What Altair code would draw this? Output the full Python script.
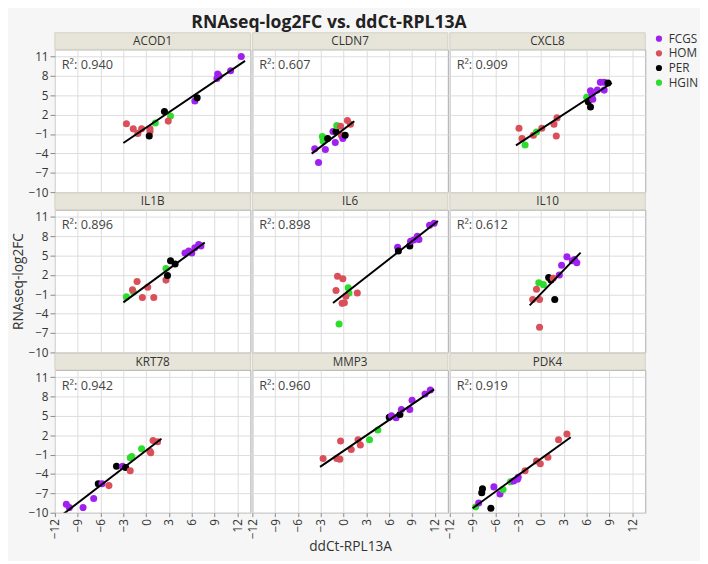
import altair as alt
import pandas as pd

GENES = ["ACOD1", "CLDN7", "CXCL8", "IL1B", "IL6", "IL10", "KRT78", "MMP3", "PDK4"]
R2 = ["0.940", "0.607", "0.909", "0.896", "0.898", "0.612", "0.942", "0.960", "0.919"]
GROUPS = ["FCGS", "HOM", "PER", "HGIN"]
COLORS = ["#A020F0", "#D9505A", "#000000", "#2EDC2E"]
X_TICKS = [-12, -9, -6, -3, 0, 3, 6, 9, 12]
Y_TICKS = [-10, -7, -4, -1, 2, 5, 8, 11]

F, H_, P, G = "FCGS", "HOM", "PER", "HGIN"

acod1_x = [-2.6, -1.7, -1.1, -0.6, 0.5, 0.5, 0.4, 1.2, 2.4, 3.2, 2.9, 6.4, 6.7, 9.3, 9.4, 9.6, 11.1, 12.5]
acod1_y = [0.6, -0.2, -0.9, -0.2, -0.2, -0.6, -1.3, 0.7, 2.5, 1.8, 1.0, 4.1, 4.6, 7.6, 8.3, 8.0, 8.8, 11.0]
acod1_g = [H_, H_, H_, H_, H_, H_, P, G, P, G, H_, F, P, F, F, F, F, F]

cldn7_x = [-3.8, -3.3, -2.4, -2.8, -2.7, -2.1, -1.4, -1.1, -1.0, -0.9, -0.4, -0.3, -0.1, 0.2, 0.5, 0.9]
cldn7_y = [-3.3, -5.4, -3.4, -1.4, -2.1, -1.7, -0.6, -2.3, -0.6, 0.3, 0.2, -1.2, -1.7, -1.2, 1.1, 0.5]
cldn7_g = [F, F, F, G, G, P, F, F, P, G, H_, H_, F, P, H_, H_]

cxcl8_x = [-2.9, -2.5, -2.1, -1.0, -0.6, 0.1, 1.7, 2.1, 2.0, 6.0, 6.2, 6.5, 6.5, 6.8, 6.7, 7.4, 7.8, 8.3, 8.3, 8.8]
cxcl8_y = [-0.1, -1.7, -2.7, -1.2, -0.7, -0.1, 0.5, 1.5, -1.3, 4.7, 4.0, 3.2, 5.7, 4.4, 5.1, 5.8, 7.0, 7.0, 5.8, 6.9]
cxcl8_g = [H_, H_, G, H_, G, H_, H_, H_, H_, G, P, P, F, F, F, F, F, F, F, P]

il1b_x = [-2.6, -1.7, -1.8, -1.2, -0.5, 0.2, 1.0, 2.6, 2.6, 2.8, 3.2, 3.8, 5.1, 5.6, 6.0, 6.4, 6.9, 7.2]
il1b_y = [-1.4, -0.6, -0.3, 1.0, -1.5, 0.1, -1.5, 3.0, 1.2, 1.9, 4.2, 3.7, 5.4, 5.7, 5.4, 6.2, 6.7, 6.5]
il1b_g = [G, G, H_, H_, H_, H_, H_, G, H_, P, P, P, F, F, F, F, F, F]

il6_x = [-0.8, -0.1, -1.0, 0.6, 0.7, 0.3, -0.2, 0.1, 1.8, -0.6, 7.1, 7.2, 8.7, 8.8, 9.2, 9.7, 9.9, 11.3, 11.9]
il6_y = [1.8, 1.4, -0.4, 0.0, -0.8, -1.3, -2.4, -2.3, -0.8, -5.6, 6.3, 5.7, 6.5, 7.2, 7.4, 8.0, 7.5, 9.7, 10.0]
il6_g = [H_, H_, H_, G, G, H_, H_, H_, H_, G, F, P, P, F, F, F, F, F, F]

il10_x = [-1.1, -0.2, -0.6, -0.3, 0.3, -0.2, 1.0, 1.3, 1.6, 1.8, 2.4, 2.7, 3.4, 4.1, 4.7, 4.4]
il10_y = [-1.8, -1.8, -0.2, 0.8, 0.5, -6.1, 1.6, 1.2, 1.5, -1.8, 2.0, 3.5, 4.8, 4.2, 3.9, 4.4]
il10_g = [H_, H_, H_, G, G, H_, P, P, H_, P, F, F, F, F, F, F]

krt78_x = [-10.5, -10.1, -8.3, -6.9, -6.3, -5.8, -4.9, -3.9, -3.1, -2.7, -2.1, -2.1, -1.9, -0.6, 0.6, 0.9, 1.5, 0.5]
krt78_y = [-8.7, -9.2, -9.2, -7.8, -5.5, -5.5, -5.8, -2.8, -2.8, -3.0, -3.5, -1.5, -1.3, -0.1, -0.7, 1.2, 1.0, -0.5]
krt78_g = [F, F, F, F, P, F, H_, P, F, P, H_, G, G, G, H_, H_, H_, H_]

mmp3_x = [-2.7, -0.9, -0.5, -0.4, 1.0, 1.9, 2.2, 3.4, 4.5, 6.0, 6.3, 6.9, 7.4, 7.6, 8.7, 9.0, 10.7, 11.4]
mmp3_y = [-1.6, -1.6, -1.7, 1.1, -0.2, 1.3, 0.5, 1.3, 2.8, 4.8, 5.0, 4.7, 5.2, 6.0, 6.0, 7.4, 8.4, 9.0]
mmp3_g = [H_, H_, H_, H_, H_, H_, H_, G, G, P, F, F, P, F, F, F, F, F]

pdk4_x = [-8.6, -8.2, -7.8, -7.7, -6.6, -6.2, -5.4, -5.0, -4.0, -3.6, -3.1, -3.0, -2.1, -0.6, -0.1, 0.9, 2.3, 3.4]
pdk4_y = [-9.1, -8.5, -6.9, -6.3, -9.3, -6.0, -7.1, -6.4, -5.2, -5.1, -4.8, -4.5, -3.5, -2.0, -2.4, -1.4, 1.3, 2.2]
pdk4_g = [G, F, P, P, P, F, F, G, G, F, F, F, H_, H_, H_, H_, H_, H_]

PANEL_DATA = {
    "ACOD1": (acod1_x, acod1_y, acod1_g),
    "CLDN7": (cldn7_x, cldn7_y, cldn7_g),
    "CXCL8": (cxcl8_x, cxcl8_y, cxcl8_g),
    "IL1B": (il1b_x, il1b_y, il1b_g),
    "IL6": (il6_x, il6_y, il6_g),
    "IL10": (il10_x, il10_y, il10_g),
    "KRT78": (krt78_x, krt78_y, krt78_g),
    "MMP3": (mmp3_x, mmp3_y, mmp3_g),
    "PDK4": (pdk4_x, pdk4_y, pdk4_g),
}

W, H = 200, 146
STRIP = 17
FONT = "Open Sans"
TXT = "#333333"


def panel(i, gene):
    xs, ys, gs = PANEL_DATA[gene]
    df = pd.DataFrame({"x": xs, "y": ys, "group": gs})
    info = pd.DataFrame({"gene": [gene], "r2": ["R\u00b2: " + R2[i]]})
    row, col = divmod(i, 3)
    bottom = row == 2
    left = col == 0

    if bottom:
        xaxis = alt.Axis(values=X_TICKS, labelAngle=-90, labelFontSize=12, labelColor=TXT,
                         tickColor="#888888", tickSize=4, domain=False, labelPadding=2,
                         labelOverlap=False, labelFlush=False, grid=True,
                         titleFontSize=14, titleFont=FONT, titleFontWeight="normal",
                         titleColor=TXT, titlePadding=1)
    else:
        xaxis = alt.Axis(values=X_TICKS, labels=False, ticks=False, domain=False, grid=True)
    if left:
        yaxis = alt.Axis(values=Y_TICKS, labelFontSize=12, labelColor=TXT,
                         tickColor="#888888", tickSize=5, domain=False, labelPadding=2,
                         labelOverlap=False, labelFlush=False, grid=True,
                         titleFontSize=14, titleFont=FONT, titleFontWeight="normal",
                         titleColor=TXT, titlePadding=3)
    else:
        yaxis = alt.Axis(values=Y_TICKS, labels=False, ticks=False, domain=False, grid=True)

    xtitle = "ddCt-RPL13A" if (bottom and col == 1) else None
    ytitle = "RNAseq-log2FC" if (left and row == 1) else None

    xs_ = alt.Scale(domain=[-12, 13.7], nice=False, zero=False)
    ys_ = alt.Scale(domain=[-10, 12.1], nice=False, zero=False)
    xenc = alt.X("x:Q", scale=xs_, axis=xaxis, title=xtitle)
    yenc = alt.Y("y:Q", scale=ys_, axis=yaxis, title=ytitle)

    pts = alt.Chart(df).mark_circle(size=52, opacity=1).encode(
        x=xenc,
        y=yenc,
        color=alt.Color("group:N", scale=alt.Scale(domain=GROUPS, range=COLORS),
                        legend=alt.Legend(title=None, symbolType="circle", symbolSize=40,
                                          labelFontSize=12, labelFont=FONT, labelColor=TXT,
                                          rowPadding=3, orient="none", legendX=612,
                                          legendY=-17)),
    )
    lo, hi = min(xs) - 0.4, max(xs) + 0.5
    line = alt.Chart(df).transform_regression("x", "y", extent=[lo, hi]).mark_line(
        color="black", strokeWidth=2, clip=True
    ).encode(x=xenc, y=yenc)

    rect = alt.Chart(info).mark_rect(fill="#E7E5D9", stroke="#D2D0C4", strokeWidth=1).encode(
        x=alt.value(0), x2=alt.value(W), y=alt.value(-STRIP), y2=alt.value(0)
    )
    stxt = alt.Chart(info).mark_text(font=FONT, fontSize=12, color=TXT, baseline="middle").encode(
        x=alt.value(W / 2), y=alt.value(-STRIP / 2), text="gene:N"
    )
    rtxt = alt.Chart(info).mark_text(font=FONT, fontSize=13, color="#444444", align="left",
                                     baseline="middle").encode(
        x=alt.value(7), y=alt.value(16), text="r2:N"
    )
    return alt.layer(pts, line, rect, stxt, rtxt).properties(width=W, height=H)


panels = [panel(i, g) for i, g in enumerate(GENES)]

chart = alt.concat(*panels, columns=3, spacing={"row": STRIP + 1, "column": 2},
                   bounds="flush").resolve_scale(color="shared").properties(
    title=alt.TitleParams("RNAseq-log2FC vs. ddCt-RPL13A", fontSize=18, fontWeight="bold",
                          font=FONT, color="#222222", anchor="middle", offset=0, dx=-26),
    background="#F6F6F6",
    padding={"left": 2, "right": 2, "top": 0, "bottom": 0},
).configure_view(fill="white", stroke="#AAAAAA", strokeWidth=1).configure_axis(
    gridColor="#DCDCDC", gridWidth=1, labelFont=FONT
).configure_text(font=FONT)

chart.save("out.html", embed_options={"renderer": "svg", "actions": False})
